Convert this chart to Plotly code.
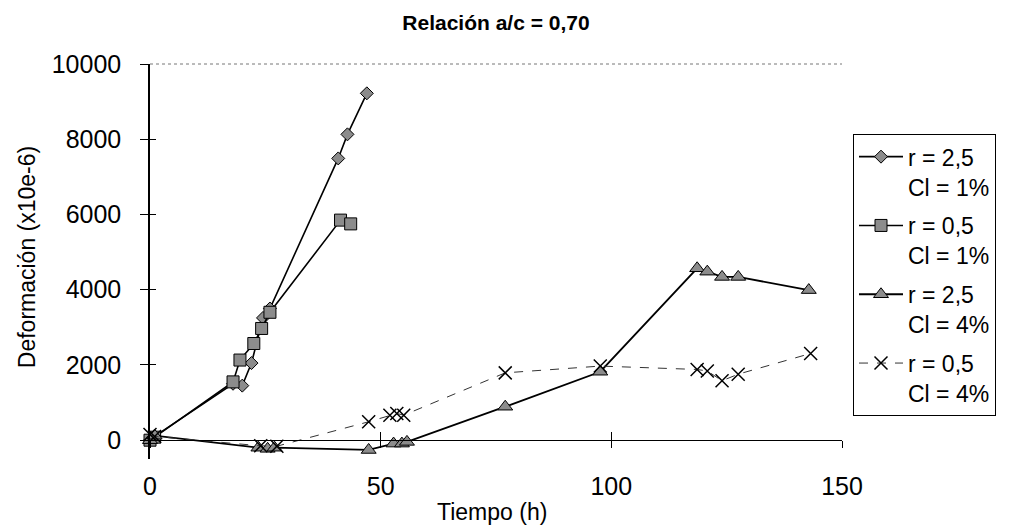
import plotly.graph_objects as go

# Data (time in h, deformation x10e-6)
t_d = [0, 1, 18, 20, 22, 24.5, 26, 40.8, 42.8, 47]
d_d = [0, 100, 1500, 1450, 2050, 3250, 3500, 7490, 8130, 9220]

t_s = [0, 1, 18, 19.5, 22.5, 24.2, 26, 41.3, 43.5]
d_s = [0, 80, 1550, 2130, 2570, 2970, 3400, 5850, 5750]

t_t = [0, 1, 23.5, 25.5, 27, 47.4, 52.8, 54.6, 55.7, 77, 97.6, 118.6, 120.8, 124, 127.5, 142.8]
d_t = [0, 120, -200, -230, -200, -260, -90, -90, -45, 890, 1820, 4570, 4480, 4340, 4340, 3990]

t_x = [0, 1, 24, 27.5, 47.4, 52, 53.5, 55, 77, 97.6, 118.6, 120.8, 124, 127.5, 143.2]
d_x = [150, 100, -150, -160, 490, 665, 710, 665, 1790, 1970, 1880, 1840, 1580, 1755, 2305]

names = ["r = 2,5<br>Cl = 1%", "r = 0,5<br>Cl = 1%", "r = 2,5<br>Cl = 4%", "r = 0,5<br>Cl = 4%"]
x_ticks = [0, 50, 100, 150]
y_ticks = [0, 2000, 4000, 6000, 8000, 10000]

FONT = "Liberation Sans, Arial, sans-serif"
GRAY = "#8c8c8c"

fig = go.Figure()
fig.add_trace(go.Scatter(x=t_d, y=d_d, name=names[0], legendgroup="a", mode="lines+markers", cliponaxis=False,
                         line=dict(color="black", width=1.6),
                         marker=dict(symbol="diamond", size=10, color=GRAY, line=dict(color="black", width=1))))
fig.add_trace(go.Scatter(x=t_s, y=d_s, name=names[1], legendgroup="b", mode="lines+markers", cliponaxis=False,
                         line=dict(color="black", width=1.6),
                         marker=dict(symbol="square", size=12, color=GRAY, line=dict(color="black", width=1))))
fig.add_trace(go.Scatter(x=t_t, y=d_t, name=names[2], legendgroup="c", mode="lines+markers", cliponaxis=False,
                         line=dict(color="black", width=1.8),
                         marker=dict(symbol="triangle-up", size=13, color=GRAY, line=dict(color="black", width=1))))
fig.add_trace(go.Scatter(x=t_x, y=d_x, name=names[3], legendgroup="d", mode="lines+markers", cliponaxis=False,
                         line=dict(color="#333333", width=1, dash="dash"),
                         marker=dict(symbol="x-thin", size=13, color="black", line=dict(color="black", width=1.5))))
# dummy trace for overlay axes (inner tick marks)
fig.add_trace(go.Scatter(x=[None], y=[None], xaxis="x2", yaxis="y2", showlegend=False, hoverinfo="skip"))

zero_pos = 500 / 10500

fig.update_layout(
    width=1015, height=529,
    margin=dict(l=150, r=173, t=64, b=70, autoexpand=False),
    paper_bgcolor="white", plot_bgcolor="white",
    font=dict(family=FONT, color="black"),
    title=dict(text="<b>Relación a/c = 0,70</b>", x=(150 + 346) / 1015, xanchor="center",
               y=1 - 23 / 529, yanchor="middle",
               font=dict(family=FONT, size=21)),
    xaxis=dict(range=[0, 150], tickvals=x_ticks, ticktext=[str(v) for v in x_ticks],
               anchor="free", position=zero_pos, showline=True, linecolor="black", linewidth=1,
               ticks="outside", ticklen=7, tickcolor="black", showgrid=False, zeroline=False,
               tickfont=dict(size=25), ticklabelstandoff=17),
    yaxis=dict(range=[-500, 10000], tickvals=y_ticks, ticktext=[str(v) for v in y_ticks],
               showline=True, linecolor="black", linewidth=1.5, ticks="outside", ticklen=8,
               tickcolor="black", showgrid=False, zeroline=False, tickfont=dict(size=25),
               ticklabelstandoff=14),
    xaxis2=dict(matches="x", overlaying="x", anchor="free", position=zero_pos, tickvals=x_ticks,
                ticks="inside", ticklen=8, tickcolor="black", showticklabels=False,
                showgrid=False, zeroline=False, showline=False),
    yaxis2=dict(matches="y", overlaying="y", side="left", tickvals=y_ticks, ticks="inside",
                ticklen=6, tickcolor="black", showticklabels=False, showgrid=False,
                zeroline=False, showline=False),
    legend=dict(x=(853 - 150) / 692, xanchor="left", y=(458.8 - 134) / 395, yanchor="top",
                bordercolor="black", borderwidth=1, bgcolor="white", valign="top",
                traceorder="grouped", font=dict(size=23), tracegroupgap=6, itemwidth=44),
    showlegend=True,
    annotations=[
        dict(text="Tiempo (h)", xref="paper", yref="paper", x=(492 - 150) / 692, y=(458.8 - 512) / 395,
             xanchor="center", yanchor="middle", showarrow=False, font=dict(size=23)),
        dict(text="Deformación (x10e-6)", xref="paper", yref="paper", x=(27 - 150) / 692,
             y=(458.8 - 257) / 395, xanchor="center", yanchor="middle", textangle=-90,
             showarrow=False, font=dict(size=23)),
    ],
    shapes=[dict(type="line", xref="paper", yref="paper", x0=0, x1=1, y0=1, y1=1,
                 line=dict(color="#777777", width=1, dash="dot"))],
)

fig.write_html("out.html", config={"displayModeBar": False},
               post_script="document.body.style.margin='0';document.body.style.overflow='hidden';")
